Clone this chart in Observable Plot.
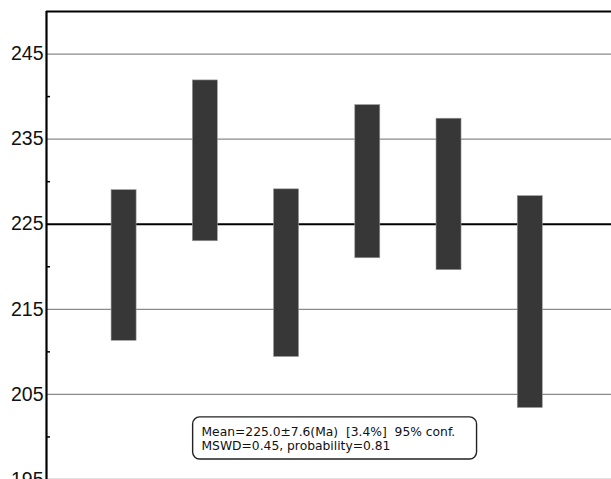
<!DOCTYPE html>
<html>
<head>
<meta charset="utf-8">
<script src="https://cdn.jsdelivr.net/npm/d3@7"></script>
<script src="https://cdn.jsdelivr.net/npm/@observablehq/plot@0.6"></script>
<style>
  html, body { margin: 0; padding: 0; background: #fff; overflow: hidden; }
  #chart svg { display: block; overflow: visible; }
</style>
</head>
<body>
<div id="chart"></div>
<script>
// Data (ages in Ma, 95% error bars)
const samples = [1, 2, 3, 4, 5, 6];
const lower = [211.3, 223.0, 209.4, 221.0, 219.6, 203.4];
const upper = [229.0, 241.9, 229.1, 239.0, 237.4, 228.3];
const meanAge = 225.0;
const majorTicks = [195, 205, 215, 225, 235, 245];
const minorTicks = [200, 210, 220, 230, 240];
const gridValues = [195, 205, 215, 235, 245];
const yDomain = [195, 250];
const xDomain = [0.045, 7.0];
const annotationLines = ["Mean=225.0\u00B17.6(Ma)  [3.4%]  95% conf.", "MSWD=0.45, probability=0.81"];
const annotationBox = {x1: 1.85, x2: 5.345, y1: 197.35, y2: 202.3, tx: 1.953, ty: 199.8};

const barHalf = 0.154;
const bars = samples.map((s, i) => ({s, lo: lower[i], hi: upper[i]}));

const chart = Plot.plot({
  width: 611,
  height: 479,
  marginTop: 11,
  marginBottom: 0,
  marginLeft: 46,
  marginRight: 0,
  style: {fontFamily: "'Liberation Sans', Arial, sans-serif", background: "#fff"},
  x: {domain: xDomain, axis: null},
  y: {domain: yDomain, axis: null},
  marks: [
    Plot.ruleY(gridValues, {stroke: "#8a8a8a", strokeWidth: 1.3}),
    Plot.ruleY([meanAge], {stroke: "#000", strokeWidth: 2}),
    Plot.rect(bars, {
      x1: d => d.s - barHalf, x2: d => d.s + barHalf,
      y1: "lo", y2: "hi",
      fill: "#373737", stroke: "#9a9a9a", strokeWidth: 0.6
    }),
    Plot.axisY(majorTicks, {
      anchor: "left", tickSize: 0, tickPadding: 3,
      fontSize: 19.5, fill: "#111", tickFormat: d => String(d)
    }),
    Plot.axisY(minorTicks, {
      anchor: "left", tickSize: -4, tickFormat: () => "", stroke: "#000", strokeWidth: 1.5
    }),
    Plot.ruleX([xDomain[0]], {stroke: "#000", strokeWidth: 2.2}),
    Plot.ruleY([yDomain[1]], {stroke: "#000", strokeWidth: 2.2}),
    Plot.rect([annotationBox], {
      x1: "x1", x2: "x2", y1: "y1", y2: "y2",
      rx: 7, fill: "#fff", stroke: "#222", strokeWidth: 1.4
    }),
    Plot.text([annotationBox], {
      x: "tx", y: "ty", text: () => annotationLines.join("\n"),
      textAnchor: "start", lineAnchor: "middle", lineHeight: 1.1,
      fontSize: 12.3, fontFamily: "'DejaVu Sans', sans-serif", fill: "#111"
    })
  ]
});
document.getElementById("chart").appendChild(chart);
</script>
</body>
</html>
